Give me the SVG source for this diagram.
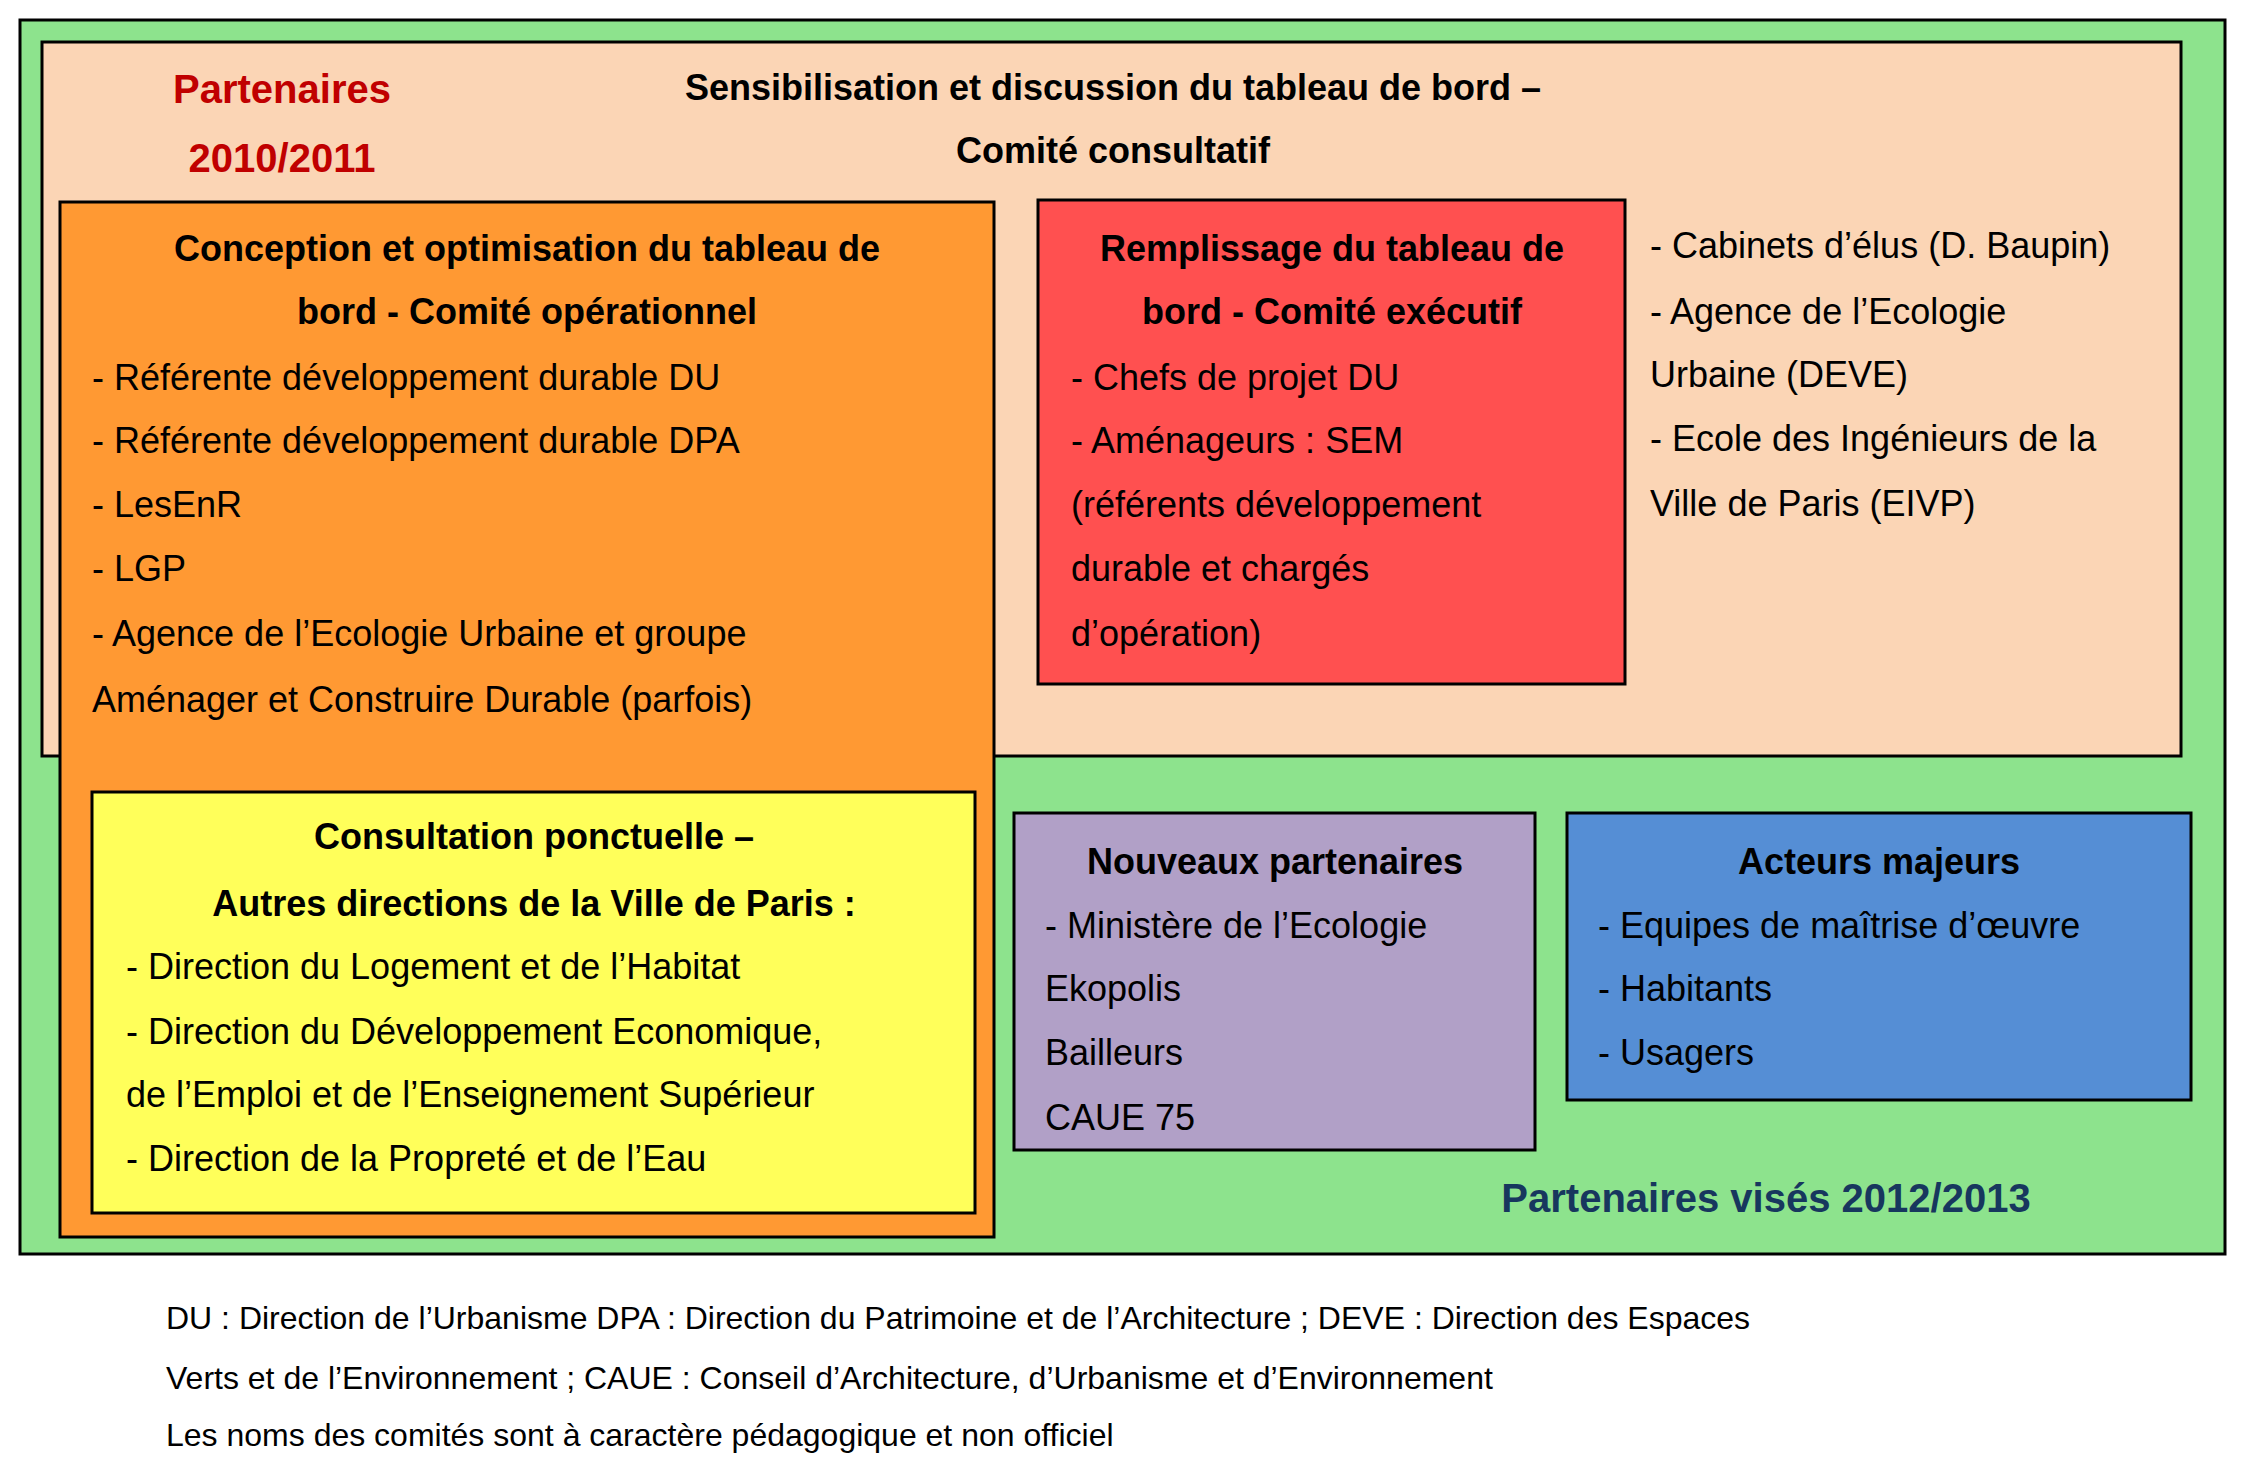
<svg xmlns="http://www.w3.org/2000/svg" width="2245" height="1464" viewBox="0 0 2245 1464">
<style>
text{font-family:"Liberation Sans","Open Sans",sans-serif;font-size:36px;fill:#000}
.b{font-weight:bold}
.c{text-anchor:middle}
.f{font-size:32px}
rect{stroke:#000;stroke-width:3}
</style>
<rect width="2245" height="1464" fill="#fff" style="stroke:none"/>
<g id="outer"><rect x="20" y="20" width="2205" height="1234" fill="#8DE38D"/>
<text class="b c" x="1766" y="1212" style="fill:#17375E;font-size:40px">Partenaires visés 2012/2013</text></g>
<g id="consultatif"><rect x="42" y="42" width="2139" height="714" fill="#FBD5B5"/>
<text class="b c" x="282" y="103" style="fill:#C00000;font-size:40px">Partenaires</text>
<text class="b c" x="282" y="172" style="fill:#C00000;font-size:40px">2010/2011</text>
<text class="b c" x="1113" y="100">Sensibilisation et discussion du tableau de bord –</text>
<text class="b c" x="1113" y="163">Comité consultatif</text>
<text x="1650" y="258">- Cabinets d’élus (D. Baupin)</text>
<text x="1650" y="324">- Agence de l’Ecologie</text>
<text x="1650" y="387">Urbaine (DEVE)</text>
<text x="1650" y="451">- Ecole des Ingénieurs de la</text>
<text x="1650" y="516">Ville de Paris (EIVP)</text></g>
<g id="operationnel"><rect x="60" y="202" width="934" height="1035" fill="#FF9933"/>
<text class="b c" x="527" y="261">Conception et optimisation du tableau de</text>
<text class="b c" x="527" y="324">bord - Comité opérationnel</text>
<text x="92" y="390">- Référente développement durable  DU</text>
<text x="92" y="453">- Référente développement durable DPA</text>
<text x="92" y="517">- LesEnR</text>
<text x="92" y="581">- LGP</text>
<text x="92" y="646">- Agence de l’Ecologie Urbaine et groupe</text>
<text x="92" y="712">Aménager et Construire Durable (parfois)</text></g>
<g id="ponctuelle"><rect x="92" y="792" width="883" height="421" fill="#FFFF5A"/>
<text class="b c" x="534" y="849">Consultation ponctuelle –</text>
<text class="b c" x="534" y="916">Autres directions de la Ville de Paris :</text>
<text x="126" y="979">- Direction du Logement et de l’Habitat</text>
<text x="126" y="1044">- Direction du Développement Economique,</text>
<text x="126" y="1107">de l’Emploi et de l’Enseignement Supérieur</text>
<text x="126" y="1171">- Direction de la Propreté et de l’Eau</text></g>
<g id="executif"><rect x="1038" y="200" width="587" height="484" fill="#FF5050"/>
<text class="b c" x="1332" y="261">Remplissage du tableau de</text>
<text class="b c" x="1332" y="324">bord - Comité exécutif</text>
<text x="1071" y="390">- Chefs de projet DU</text>
<text x="1071" y="453">- Aménageurs : SEM</text>
<text x="1071" y="517">(référents développement</text>
<text x="1071" y="581">durable et chargés</text>
<text x="1071" y="646">d’opération)</text></g>
<g id="nouveaux"><rect x="1014" y="813" width="521" height="337" fill="#B1A0C7"/>
<text class="b c" x="1275" y="874">Nouveaux partenaires</text>
<text x="1045" y="938">- Ministère de l’Ecologie</text>
<text x="1045" y="1001">Ekopolis</text>
<text x="1045" y="1065">Bailleurs</text>
<text x="1045" y="1130">CAUE 75</text></g>
<g id="acteurs"><rect x="1567" y="813" width="624" height="287" fill="#558ED5"/>
<text class="b c" x="1879" y="874">Acteurs majeurs</text>
<text x="1598" y="938">- Equipes de maîtrise d’œuvre</text>
<text x="1598" y="1001">- Habitants</text>
<text x="1598" y="1065">- Usagers</text></g>
<g id="connectors"/>
<g id="note">
<text class="f" x="166" y="1329">DU : Direction de l’Urbanisme DPA : Direction du Patrimoine et de l’Architecture ; DEVE : Direction des Espaces</text>
<text class="f" x="166" y="1389">Verts et de l’Environnement ; CAUE : Conseil d’Architecture, d’Urbanisme et d’Environnement</text>
<text class="f" x="166" y="1446">Les noms des comités sont à caractère pédagogique et non officiel</text></g>
</svg>
